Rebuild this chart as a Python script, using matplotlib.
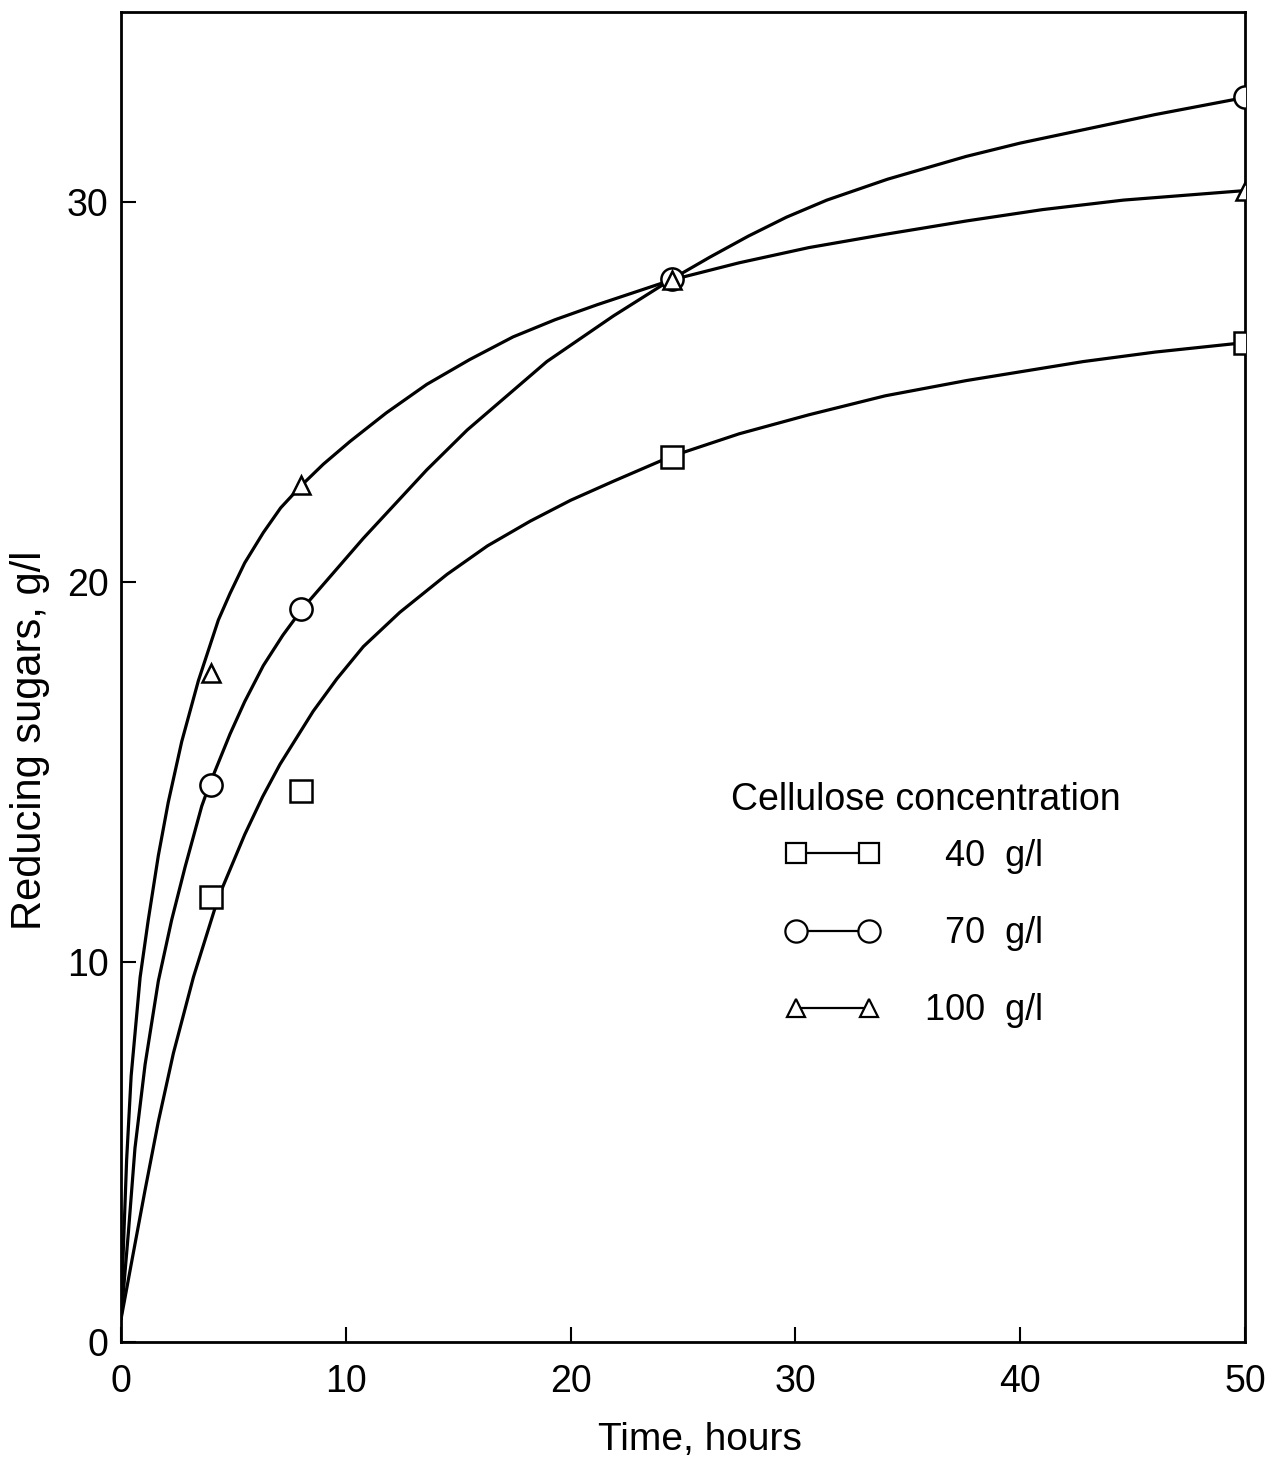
import matplotlib
matplotlib.use("Agg")
import matplotlib.pyplot as plt
from matplotlib.lines import Line2D

plt.rcParams['font.family'] = ['Liberation Sans', 'DejaVu Sans']

# Measured reducing sugars (g/l) at each sampling time (hours)
time_h = [4, 8, 24.5, 50]
sugar_40 = [11.7, 14.5, 23.3, 26.3]
sugar_70 = [14.65, 19.3, 27.97, 32.75]
sugar_100 = [17.6, 22.55, 27.95, 30.3]

# Smooth trend curves drawn through the data
fit40_t = [0, 0.47, 1.07, 1.66, 2.33, 3.22, 4.33, 5.5, 6.3, 7.07, 8.55, 9.6,
           10.78, 12.4, 14.5, 16.3, 18.2, 20, 21.9, 24.45, 27.5, 30.6, 34,
           37.6, 42.8, 46, 50]
fit40_y = [0.6, 2.1, 4.0, 5.8, 7.6, 9.6, 11.7, 13.35, 14.35, 15.2, 16.6, 17.45,
           18.3, 19.2, 20.2, 20.95, 21.6, 22.15, 22.65, 23.3, 23.9, 24.4, 24.9,
           25.3, 25.8, 26.05, 26.3]

fit70_t = [0, 0.33, 0.62, 1.07, 1.66, 2.25, 2.85, 3.59, 3.93, 4.85, 5.5, 6.33,
           7.2, 8.07, 10.78, 13.6, 15.4, 18.94, 21.9, 24.5, 26.2, 27.9, 29.6,
           31.4, 34.1, 37.6, 40, 42.8, 46, 50]
fit70_y = [0.6, 2.9, 5.1, 7.3, 9.5, 11.1, 12.5, 14.1, 14.66, 16.0, 16.85, 17.8,
           18.6, 19.3, 21.15, 22.95, 24.0, 25.8, 27.0, 27.97, 28.55, 29.1, 29.6,
           30.05, 30.6, 31.2, 31.55, 31.9, 32.3, 32.75]

fit100_t = [0, 0.1, 0.25, 0.45, 0.85, 1.21, 1.66, 2.1, 2.7, 3.44, 4.33, 4.85,
            5.5, 6.33, 7.1, 8.04, 9, 10.19, 11.8, 13.6, 15.5, 17.44, 19.3, 21.2,
            24.5, 27.5, 30.6, 34, 37.6, 41, 44.6, 50]
fit100_y = [0.6, 2.4, 4.8, 7.0, 9.6, 11.1, 12.8, 14.2, 15.8, 17.4, 19.0, 19.7,
            20.5, 21.3, 21.95, 22.55, 23.1, 23.7, 24.45, 25.2, 25.85, 26.45, 26.9,
            27.3, 27.95, 28.4, 28.8, 29.15, 29.5, 29.8, 30.05, 30.3]

x_ticks = [0, 10, 20, 30, 40, 50]
y_ticks = [0, 10, 20, 30]
legend_title = 'Cellulose concentration'
legend_labels = ['  40  g/l', '  70  g/l', '100  g/l']

fig = plt.figure(figsize=(12.78, 14.62), dpi=100)
ax = fig.add_axes([0.0947, 0.0821, 0.8795, 0.9097])

for t, y in [(fit40_t, fit40_y), (fit70_t, fit70_y), (fit100_t, fit100_y)]:
    ax.plot(t, y, color='black', lw=2.3, solid_joinstyle='round',
            solid_capstyle='round', zorder=2)

mk = dict(ls='none', mfc='white', mec='black', mew=1.8)
ax.plot(time_h, sugar_40, marker='s', ms=16, zorder=3, **mk)
ax.plot(time_h, sugar_70, marker='o', ms=16, zorder=3, **mk)
ax.plot(time_h, sugar_100, marker='^', ms=13, zorder=4, **mk)

ax.set_xlim(0, 50)
ax.set_ylim(0, 35)
ax.set_xticks(x_ticks)
ax.set_yticks(y_ticks)
ax.tick_params(direction='in', length=11, width=1.5, labelsize=27)
ax.tick_params(axis='x', pad=16)
ax.tick_params(axis='y', pad=9)
for s in ax.spines.values():
    s.set_linewidth(2.0)

ax.set_xlabel('Time, hours', fontsize=28, va='center')
ax.xaxis.set_label_coords(0.515, -0.074)
ax.set_ylabel('Reducing sugars, g/l', fontsize=30, va='center')
ax.yaxis.set_label_coords(-0.081, 0.4526)

ax.text(0.716, 0.4075, legend_title, transform=ax.transAxes, fontsize=27,
        ha='center', va='center')

lk = dict(color='black', lw=1.6, mfc='white', mec='black', mew=1.6)
handles = [Line2D([], [], marker='s', ms=15, **lk),
           Line2D([], [], marker='o', ms=16, **lk),
           Line2D([], [], marker='^', ms=13, **lk)]
ax.legend(handles, legend_labels, fontsize=26, numpoints=2, frameon=False,
          handlelength=2.63, handletextpad=1.25, labelspacing=1.17,
          borderpad=0, borderaxespad=0, loc='upper left',
          bbox_to_anchor=(0.5907, 0.3782))

fig.savefig('out.png', dpi=100, facecolor='white')
